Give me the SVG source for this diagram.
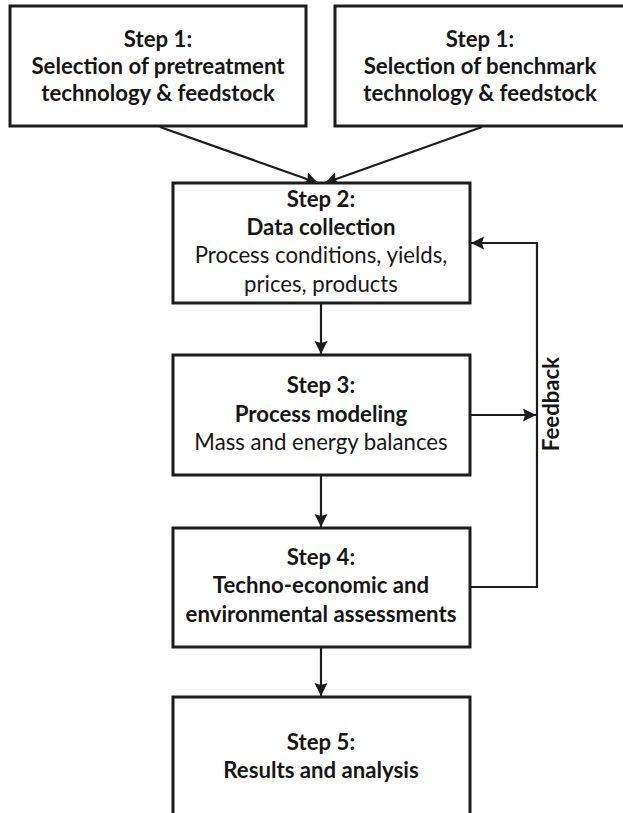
<svg xmlns="http://www.w3.org/2000/svg" width="623" height="813" viewBox="0 0 623 813">
  <style>
    .box { fill: #ffffff; stroke: #1c1c1c; stroke-width: 3; }
    .link { fill: none; stroke: #1c1c1c; stroke-width: 2.2; }
    text { font-family: "Lato", "Open Sans", "Liberation Sans", sans-serif; font-size: 22.2px; fill: #161616; text-anchor: middle; }
    .b { font-weight: bold; }
  </style>
  <defs>
    <marker id="arrow" markerUnits="userSpaceOnUse" markerWidth="14" markerHeight="14" refX="13" refY="6.5" orient="auto">
      <path d="M0,0 L13,6.5 L0,13 L2,6.5 z" fill="#1c1c1c"/>
    </marker>
  </defs>
  <rect width="623" height="813" fill="#ffffff"/>

  <g id="connectors">
    <line class="link" x1="160" y1="127" x2="318" y2="183" marker-end="url(#arrow)"/>
    <line class="link" x1="482" y1="127" x2="325" y2="183" marker-end="url(#arrow)"/>
    <line class="link" x1="321" y1="303" x2="321" y2="354" marker-end="url(#arrow)"/>
    <line class="link" x1="321" y1="475" x2="321" y2="527" marker-end="url(#arrow)"/>
    <line class="link" x1="321" y1="647" x2="321" y2="696" marker-end="url(#arrow)"/>
    <line class="link" x1="470" y1="415" x2="536" y2="415" marker-end="url(#arrow)"/>
    <polyline class="link" points="470,587 537,587 537,243 471,243" marker-end="url(#arrow)"/>
  </g>

  <g id="step1a">
    <rect class="box" x="10" y="6" width="296" height="120"/>
    <text class="b" x="158" y="47">Step 1:</text>
    <text class="b" x="158" y="74">Selection of pretreatment</text>
    <text class="b" x="158" y="101">technology &amp; feedstock</text>
  </g>

  <g id="step1b">
    <rect class="box" x="335" y="6" width="300" height="120"/>
    <text class="b" x="480" y="47">Step 1:</text>
    <text class="b" x="480" y="74">Selection of benchmark</text>
    <text class="b" x="480" y="101">technology &amp; feedstock</text>
  </g>

  <g id="step2">
    <rect class="box" x="173" y="183" width="297" height="120"/>
    <text class="b" x="321" y="207">Step 2:</text>
    <text class="b" x="321" y="235">Data collection</text>
    <text x="321" y="263">Process conditions, yields,</text>
    <text x="321" y="292">prices, products</text>
  </g>

  <g id="step3">
    <rect class="box" x="173" y="355" width="297" height="120"/>
    <text class="b" x="321" y="393">Step 3:</text>
    <text class="b" x="321" y="422">Process modeling</text>
    <text x="321" y="450">Mass and energy balances</text>
  </g>

  <g id="step4">
    <rect class="box" x="173" y="528" width="297" height="119"/>
    <text class="b" x="321" y="565">Step 4:</text>
    <text class="b" x="321" y="593">Techno-economic and</text>
    <text class="b" x="321" y="622">environmental assessments</text>
  </g>

  <g id="step5">
    <rect class="box" x="173" y="697" width="297" height="140"/>
    <text class="b" x="321" y="750">Step 5:</text>
    <text class="b" x="321" y="778">Results and analysis</text>
  </g>

  <g id="feedback-label">
    <text class="b" transform="translate(559,404) rotate(-90)">Feedback</text>
  </g>
</svg>
